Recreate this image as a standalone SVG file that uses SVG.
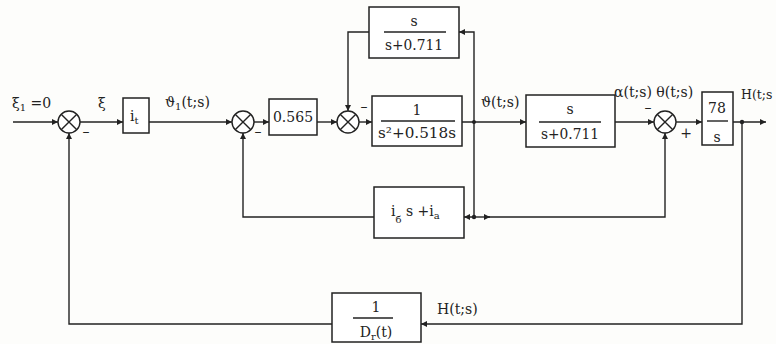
<svg xmlns="http://www.w3.org/2000/svg" width="776" height="344" viewBox="0 0 776 344">
<defs>
<marker id="ah" viewBox="0 0 10 10" refX="10" refY="5" markerWidth="8" markerHeight="6" orient="auto" markerUnits="userSpaceOnUse">
<path d="M0,0 L10,5 L0,10 Z" fill="#222"/>
</marker>
<style>
.ln{fill:none;stroke:#222;stroke-width:1.4}
.bx{fill:#fff;stroke:#222;stroke-width:1.5}
.sm{fill:#fff;stroke:#222;stroke-width:1.4}
.t{font-family:"DejaVu Serif","Liberation Serif",serif;font-size:14px;fill:#222}
.s{font-size:10px}
.c{text-anchor:middle}
.dot{fill:#222}
</style>
</defs>
<rect width="776" height="344" fill="#fdfdfb"/>

<g id="connectors">
<path class="ln" d="M13,122 H58" marker-end="url(#ah)"/>
<path class="ln" d="M80,122 H123" marker-end="url(#ah)"/>
<path class="ln" d="M149,122 H232" marker-end="url(#ah)"/>
<path class="ln" d="M254,122 H269" marker-end="url(#ah)"/>
<path class="ln" d="M317,122 H337" marker-end="url(#ah)"/>
<path class="ln" d="M359,122 H372" marker-end="url(#ah)"/>
<path class="ln" d="M462,122 H526" marker-end="url(#ah)"/>
<path class="ln" d="M474,122 V32 H459" marker-end="url(#ah)"/>
<path class="ln" d="M369,32 H348 V111" marker-end="url(#ah)"/>
<path class="ln" d="M474,122 V217 H464" marker-end="url(#ah)"/>
<path class="ln" d="M374,217 H243 V133" marker-end="url(#ah)"/>
<path class="ln" d="M474,217 H490" marker-end="url(#ah)"/>
<path class="ln" d="M488,217 H665 V133" marker-end="url(#ah)"/>
<path class="ln" d="M615,122 H654" marker-end="url(#ah)"/>
<path class="ln" d="M676,122 H702" marker-end="url(#ah)"/>
<path class="ln" d="M733,122 H766" marker-end="url(#ah)"/>
<path class="ln" d="M742,122 V324 H421" marker-end="url(#ah)"/>
<path class="ln" d="M332,324 H69 V133" marker-end="url(#ah)"/>
<circle class="dot" cx="474" cy="122" r="2"/>
<circle class="dot" cx="474" cy="217" r="2.2"/>
<circle class="dot" cx="742" cy="122" r="2.2"/>
</g>

<g id="labels">
<text class="t" x="12" y="108">ξ<tspan class="s" dy="3">1</tspan><tspan dy="-3"> =0</tspan></text>
<text class="t" x="98" y="108">ξ</text>
<text class="t" x="165" y="107">ϑ<tspan class="s" dy="3">1</tspan><tspan dy="-3">(t;s)</tspan></text>
<text class="t" x="481" y="107">ϑ(t;s)</text>
<text class="t" x="614" y="97">α(t;s) θ(t;s)</text>
<text class="t" x="741" y="99" style="font-size:12.5px">H(t;s</text>
<text class="t" x="437" y="314">H(t;s)</text>
<text class="t c" x="86" y="136">–</text>
<text class="t c" x="258" y="136">–</text>
<text class="t c" x="364" y="111">–</text>
<text class="t c" x="648" y="112">–</text>
<text class="t c" x="686" y="138">+</text>
</g>

<g id="sum1"><circle class="sm" cx="69" cy="122" r="11"/><path class="ln" d="M61.2,114.2 L76.8,129.8 M76.8,114.2 L61.2,129.8"/></g>
<g id="sum2"><circle class="sm" cx="243" cy="122" r="11"/><path class="ln" d="M235.2,114.2 L250.8,129.8 M250.8,114.2 L235.2,129.8"/></g>
<g id="sum3"><circle class="sm" cx="348" cy="122" r="11"/><path class="ln" d="M340.2,114.2 L355.8,129.8 M355.8,114.2 L340.2,129.8"/></g>
<g id="sum4"><circle class="sm" cx="665" cy="122" r="11"/><path class="ln" d="M657.2,114.2 L672.8,129.8 M672.8,114.2 L657.2,129.8"/></g>

<g id="box_it">
<rect class="bx" x="123" y="98" width="26" height="35"/>
<text class="t" x="130" y="121">i<tspan class="s" dy="3">t</tspan></text>
</g>

<g id="box_0565">
<rect class="bx" x="269" y="99" width="48" height="36"/>
<text class="t c" x="293" y="122">0.565</text>
</g>

<g id="box_top">
<rect class="bx" x="369" y="7" width="90" height="51"/>
<text class="t c" x="414" y="26">s</text>
<path class="ln" d="M384,32 H446"/>
<text class="t c" x="414" y="50" textLength="58" lengthAdjust="spacingAndGlyphs">s+0.711</text>
</g>

<g id="box_plant">
<rect class="bx" x="372" y="96" width="90" height="50"/>
<text class="t c" x="417" y="115">1</text>
<path class="ln" d="M381,121 H455"/>
<text class="t c" x="417" y="138" textLength="78" lengthAdjust="spacingAndGlyphs">s²+0.518s</text>
</g>

<g id="box_fb">
<rect class="bx" x="374" y="187" width="90" height="51"/>
<text class="t" x="391" y="216">i<tspan class="s" dy="7">б</tspan><tspan dy="-7"> s +i</tspan><tspan class="s" dy="3">a</tspan></text>
</g>

<g id="box_alpha">
<rect class="bx" x="526" y="95" width="89" height="52"/>
<text class="t c" x="570" y="114">s</text>
<path class="ln" d="M539,122 H601"/>
<text class="t c" x="570" y="139" textLength="58" lengthAdjust="spacingAndGlyphs">s+0.711</text>
</g>

<g id="box_78">
<rect class="bx" x="702" y="92" width="31" height="53"/>
<text class="t c" x="717" y="113">78</text>
<path class="ln" d="M707,121 H728"/>
<text class="t c" x="717" y="142">s</text>
</g>

<g id="box_D">
<rect class="bx" x="332" y="293" width="89" height="49"/>
<text class="t c" x="376" y="312">1</text>
<path class="ln" d="M353,318 H393"/>
<text class="t c" x="376" y="337">D<tspan class="s" dy="3">r</tspan><tspan dy="-3">(t)</tspan></text>
</g>
</svg>
